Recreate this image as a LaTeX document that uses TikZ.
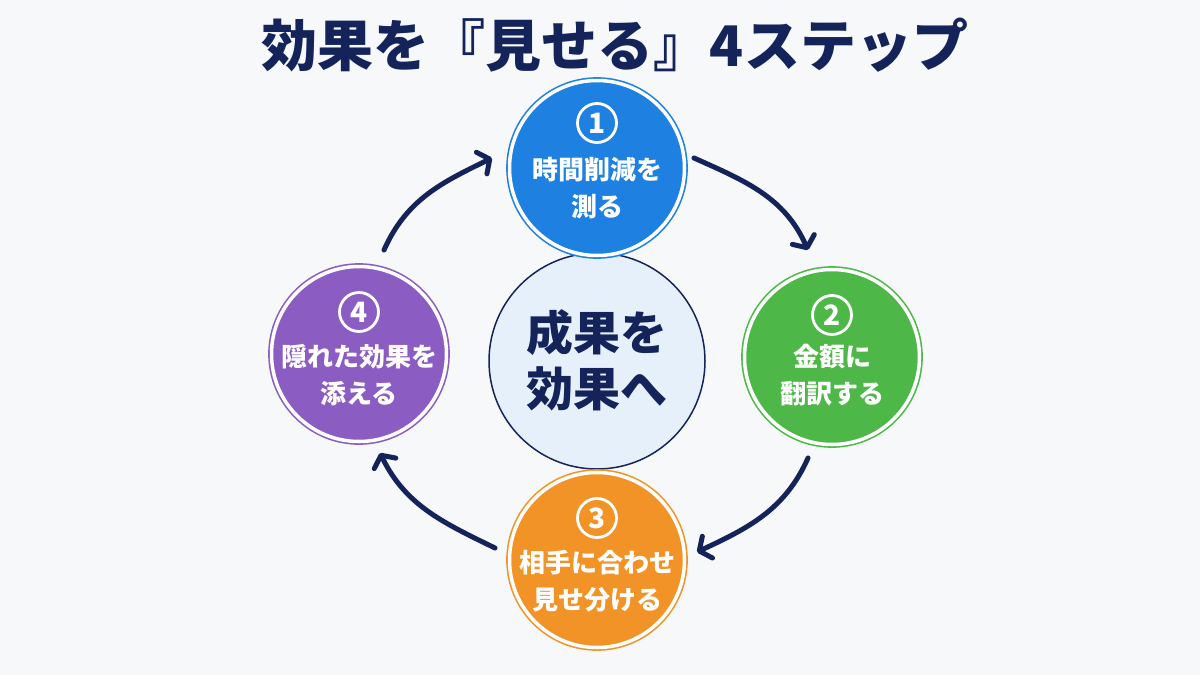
\documentclass[tikz,border=0pt]{standalone}
\usepackage{fontspec}
\setmainfont{Noto Sans CJK JP}
\usetikzlibrary{arrows.meta}
\definecolor{bgc}{HTML}{F7F8FA}
\definecolor{navy}{HTML}{14245A}
\definecolor{cblue}{HTML}{1E80E0}
\definecolor{cgreen}{HTML}{4DB848}
\definecolor{corange}{HTML}{F29327}
\definecolor{cpurple}{HTML}{8B5CC1}
\definecolor{hubfill}{HTML}{E6F0FB}
\begin{document}
\begin{tikzpicture}[x=1pt,y=1pt,
  stepc/.style={circle, minimum size=175pt, inner sep=0pt, fill=#1, draw=#1, line width=1.6pt, double=white, double distance=3.5pt},
  numc/.style={circle, minimum size=39pt, inner sep=0pt, draw=white, line width=2.8pt, text=white, font=\bfseries\fontsize{28}{28}\selectfont},
  steptxt/.style={text=white, align=center, font=\bfseries\fontsize{26}{37}\selectfont},
  arr/.style={navy, line width=5pt, line cap=round, -{Straight Barb[length=9pt,width=24pt,round]}}]
\fill[bgc] (0,0) rectangle (1200,-675);
\useasboundingbox (0,0) rectangle (1200,-675);
% title
\node[text=navy, font=\bfseries\fontsize{56}{56}\selectfont] (title) at (615,-45) {効果を『見せる』4ステップ};
% hub
\node[circle, minimum size=216pt, fill=hubfill, draw=navy, line width=1.5pt] (hub) at (597,-361) {};
\node[text=navy, align=center, font=\bfseries\fontsize{47}{56}\selectfont] (hubt) at (597,-360) {成果を\\効果へ};
% steps
\node[stepc=cblue] (s1) at (597,-168) {};
\node[numc] (n1) at (597,-123) {1};
\node[steptxt] (t1) at (597,-188) {時間削減を\\測る};
\node[stepc=cgreen] (s2) at (832,-357) {};
\node[numc] (n2) at (832,-315) {2};
\node[steptxt] (t2) at (832,-375) {金額に\\翻訳する};
\node[stepc=corange] (s3) at (597,-560) {};
\node[numc] (n3) at (597,-518) {3};
\node[steptxt] (t3) at (597,-581) {相手に合わせ\\見せ分ける};
\node[stepc=cpurple] (s4) at (359,-354) {};
\node[numc] (n4) at (359,-312) {4};
\node[steptxt] (t4) at (359,-375) {隠れた効果を\\添える};
% arrow ends
\coordinate (a1s) at (384,-250);
\coordinate (a1e) at (492,-158);
\coordinate (a2s) at (694,-158);
\coordinate (a2e) at (808,-250);
\coordinate (a3s) at (808,-458);
\coordinate (a3e) at (697,-552);
\coordinate (a4s) at (495,-548);
\coordinate (a4e) at (380,-453);
\draw[arr] (a1s) to[out=66,in=206] (a1e);
\draw[arr] (a2s) to[out=-24,in=114] (a2e);
\draw[arr] (a3s) to[out=-114,in=25] (a3e);
\draw[arr] (a4s) to[out=154,in=-64] (a4e);
\end{tikzpicture}
\end{document}
